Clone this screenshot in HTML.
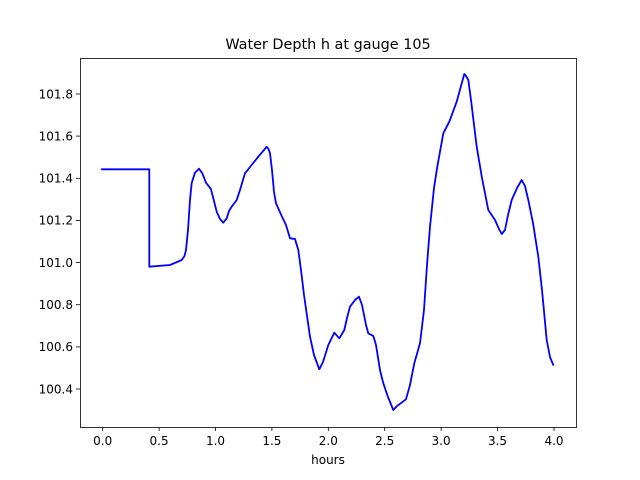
<!DOCTYPE html>
<html><head><meta charset="utf-8"><style>body{margin:0;background:#fff}svg{display:block}text{font-family:"DejaVu Sans","Liberation Sans",sans-serif;fill:#000}</style></head><body>
<svg width="640" height="480" viewBox="0 0 640 480" xmlns="http://www.w3.org/2000/svg">
<rect width="640" height="480" fill="#fff"/>
<polyline fill="none" stroke="#0000ff" stroke-width="1.8" stroke-linejoin="round" stroke-linecap="round" points="101.7,169.3 149.3,169.3 149.3,266.7 170,265 181.7,260 184.5,256 186,250 188,230 190,200 191.7,183 195,172.7 199,168.7 202.3,173.3 206,182.7 209,186.5 211,189.3 213,197 216.7,211.7 220,219 223.3,222.7 226.7,218.3 229,211 231.7,206.7 236.7,200 240,190 245,173.3 250,167 258.3,156.7 264,150 266.7,146.7 268.5,149 270,153.3 272,170 274,192 276,203.3 281.7,216 286,225 290,238.3 295,239 298.3,250 301,270 304,295 310,336.7 314,355 319.3,369.3 323,362 328.3,345 334.3,332.7 339.3,338.3 344.3,330 347,318 350,306.7 355,300 359,296.7 362,305 366,325 368.3,333.3 373.3,336 376,345 380,370 383.3,383.3 388,397 393.3,410 397,406 400.7,403.3 406,399.3 410,385 414.3,363.3 420,343.3 424,310 427,265 430,226.7 434,188 437.3,166.7 443.3,133.3 449.3,121.7 456.7,101.7 461,86 464.3,74 466,76 468.3,80 471,100 476.7,146.7 482,178 488.3,210 495,220 499,229 501.7,234 505,230 508,215 511.7,200 517,188 521.7,180 525,186 528.3,200 533,223 538.3,256.7 542,290 546.7,340 550,357 553.3,365"/>
<rect x="80.5" y="58.5" width="496" height="369" fill="none" stroke="#000" stroke-width="0.8"/>
<g stroke="#000" stroke-width="0.8">
<line x1="102.7" y1="427" x2="102.7" y2="431"/><line x1="159.1" y1="427" x2="159.1" y2="431"/><line x1="215.5" y1="427" x2="215.5" y2="431"/><line x1="271.9" y1="427" x2="271.9" y2="431"/><line x1="328.3" y1="427" x2="328.3" y2="431"/><line x1="384.7" y1="427" x2="384.7" y2="431"/><line x1="441.1" y1="427" x2="441.1" y2="431"/><line x1="497.5" y1="427" x2="497.5" y2="431"/><line x1="554" y1="427" x2="554" y2="431"/>
<line x1="76" y1="94" x2="80" y2="94"/><line x1="76" y1="136.1" x2="80" y2="136.1"/><line x1="76" y1="178.3" x2="80" y2="178.3"/><line x1="76" y1="220.4" x2="80" y2="220.4"/><line x1="76" y1="262.6" x2="80" y2="262.6"/><line x1="76" y1="304.7" x2="80" y2="304.7"/><line x1="76" y1="346.9" x2="80" y2="346.9"/><line x1="76" y1="389" x2="80" y2="389"/>
</g>
<g font-size="12" text-anchor="middle">
<text x="102.7" y="445">0.0</text><text x="159.1" y="445">0.5</text><text x="215.5" y="445">1.0</text><text x="271.9" y="445">1.5</text><text x="328.3" y="445">2.0</text><text x="384.7" y="445">2.5</text><text x="441.1" y="445">3.0</text><text x="497.5" y="445">3.5</text><text x="554" y="445">4.0</text>
</g>
<g font-size="12" text-anchor="end">
<text x="73" y="98.3">101.8</text><text x="73" y="140.4">101.6</text><text x="73" y="182.6">101.4</text><text x="73" y="224.7">101.2</text><text x="73" y="266.9">101.0</text><text x="73" y="309">100.8</text><text x="73" y="351.2">100.6</text><text x="73" y="393.3">100.4</text>
</g>
<text x="328" y="464" font-size="12" text-anchor="middle">hours</text>
<text x="328" y="49" font-size="14.4" text-anchor="middle">Water Depth h at gauge 105</text>
</svg>
</body></html>
